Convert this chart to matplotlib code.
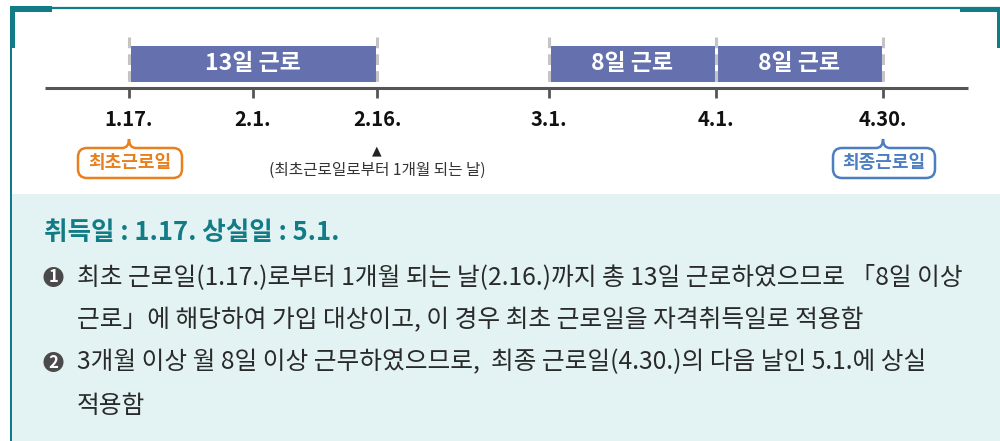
import matplotlib
matplotlib.use("Agg")
import matplotlib.pyplot as plt
from matplotlib.patches import Rectangle, PathPatch, Circle
from matplotlib.path import Path

plt.rcParams['font.family'] = ['Noto Sans CJK KR', 'DejaVu Sans']

# ---- data ----
date_labels = ["1.17.", "2.1.", "2.16.", "3.1.", "4.1.", "4.30."]
tick_x = [129, 253, 377, 549, 716, 883]          # layout positions on the timeline
work_spans = [(0, 2), (3, 4), (4, 5)]             # start/end index into date_labels
work_days = [13, 8, 8]
first_day_label = "최초근로일"
last_day_label = "최종근로일"
one_month_note = "(최초근로일로부터 1개월 되는 날)"
summary_title = "취득일 : 1.17. 상실일 : 5.1."
bullet_numbers = ["1", "2"]
bullet_lines = [
    ["최초 근로일(1.17.)로부터 1개월 되는 날(2.16.)까지 총 13일 근로하였으므로 「8일 이상",
     "근로」에 해당하여 가입 대상이고, 이 경우 최초 근로일을 자격취득일로 적용함"],
    ["3개월 이상 월 8일 이상 근무하였으므로,  최종 근로일(4.30.)의 다음 날인 5.1.에 상실",
     "적용함"],
]

# ---- colours ----
TEAL = "#127C86"
BAR = "#6471AE"
PANEL = "#E3F3F3"
AXIS = "#555555"
DASH = "#C4C4C4"
ORANGE = "#E8801E"
BLUE = "#4C7FC2"
TEXT = "#2A2A2A"

fig = plt.figure(figsize=(10, 4.41), dpi=100)
ax = fig.add_axes([0, 0, 1, 1])
ax.set_xlim(0, 1000)
ax.set_ylim(441, 0)
ax.axis("off")

# ---- frame ----
ax.add_patch(Rectangle((12, 194), 988, 247, facecolor=PANEL, edgecolor="none"))
ax.plot([10, 1000], [7.5, 7.5], color=TEAL, lw=1.6, solid_capstyle="butt")
ax.add_patch(Rectangle((10, 6), 2, 435, facecolor=TEAL, edgecolor="none"))
ax.add_patch(Rectangle((10, 6), 42, 6, facecolor=TEAL, edgecolor="none"))
ax.add_patch(Rectangle((10, 6), 5, 42, facecolor=TEAL, edgecolor="none"))
ax.add_patch(Rectangle((960, 7), 40, 5, facecolor=TEAL, edgecolor="none"))
ax.add_patch(Rectangle((997, 7), 3, 41, facecolor=TEAL, edgecolor="none"))

# ---- timeline ----
AX_Y = 88
ax.plot([45, 968], [AX_Y, AX_Y], color=AXIS, lw=2.2, solid_capstyle="butt", zorder=3)
for x in tick_x:
    ax.plot([x, x], [AX_Y, 98], color=AXIS, lw=2, solid_capstyle="butt", zorder=3)

bar_ends = sorted({tick_x[i] for span in work_spans for i in span})
for x in bar_ends:
    ax.plot([x, x], [37, AX_Y], color=DASH, lw=2.2, ls=(0, (3.5, 2)), zorder=2)

for (i0, i1), d in zip(work_spans, work_days):
    x0, x1 = tick_x[i0] + 1.5, tick_x[i1] - 1.5
    ax.bar(x0, 36, width=x1 - x0, bottom=46, align="edge", color=BAR, zorder=1)
    ax.text((x0 + x1) / 2, 63, f"{d}일 근로", color="white", fontsize=16.5,
            fontweight="bold", ha="center", va="center", zorder=4)

for x, lab in zip(tick_x, date_labels):
    ax.text(x, 119, lab, color="#111111", fontsize=14.5, fontweight="bold",
            ha="center", va="center")


def bubble(cx, x0, x1, y0, y1, color, text):
    r, nw, nh = 9, 7, 9
    verts = [(x0 + r, y0), (cx - nw, y0), (cx, y0), (cx, y0 - nh), (cx, y0),
             (cx + nw, y0), (x1 - r, y0), (x1, y0), (x1, y0 + r), (x1, y1 - r),
             (x1, y1), (x1 - r, y1), (x0 + r, y1), (x0, y1), (x0, y1 - r),
             (x0, y0 + r), (x0, y0), (x0 + r, y0)]
    codes = [Path.MOVETO, Path.LINETO, Path.CURVE3, Path.CURVE3, Path.CURVE3,
             Path.CURVE3, Path.LINETO, Path.CURVE3, Path.CURVE3, Path.LINETO,
             Path.CURVE3, Path.CURVE3, Path.LINETO, Path.CURVE3, Path.CURVE3,
             Path.LINETO, Path.CURVE3, Path.CURVE3]
    ax.add_patch(PathPatch(Path(verts, codes), facecolor="white", edgecolor=color,
                           lw=1.8, zorder=3))
    ax.text((x0 + x1) / 2, (y0 + y1) / 2 - 0.5, text, color=color, fontsize=13,
            fontweight="bold", ha="center", va="center", zorder=4)


bubble(tick_x[0], 78, 182, 148, 178, ORANGE, first_day_label)
bubble(tick_x[-1], 833, 935, 148, 178, BLUE, last_day_label)

ax.text(tick_x[2], 151, "▲", color="#222222", fontsize=9, ha="center", va="center",
        family=["DejaVu Sans"])
ax.text(tick_x[2], 170, one_month_note, color="#333333", fontsize=11.3,
        ha="center", va="center")

# ---- summary panel ----
ax.text(44, 233, summary_title, color=TEAL, fontsize=18.4, fontweight="bold",
        ha="left", va="center")

line_y = [277, 320, 362, 406]
k = 0
for num, lines in zip(bullet_numbers, bullet_lines):
    cy = line_y[k]
    ax.add_patch(Circle((53.5, cy), 10, facecolor="#4A4A4A", edgecolor="none"))
    ax.text(53.5, cy + 0.5, num, color="white", fontsize=12, fontweight="bold",
            ha="center", va="center")
    for ln in lines:
        ax.text(77, line_y[k], ln, color=TEXT, fontsize=17.8, ha="left", va="center")
        k += 1

fig.savefig("out.png", dpi=100)
